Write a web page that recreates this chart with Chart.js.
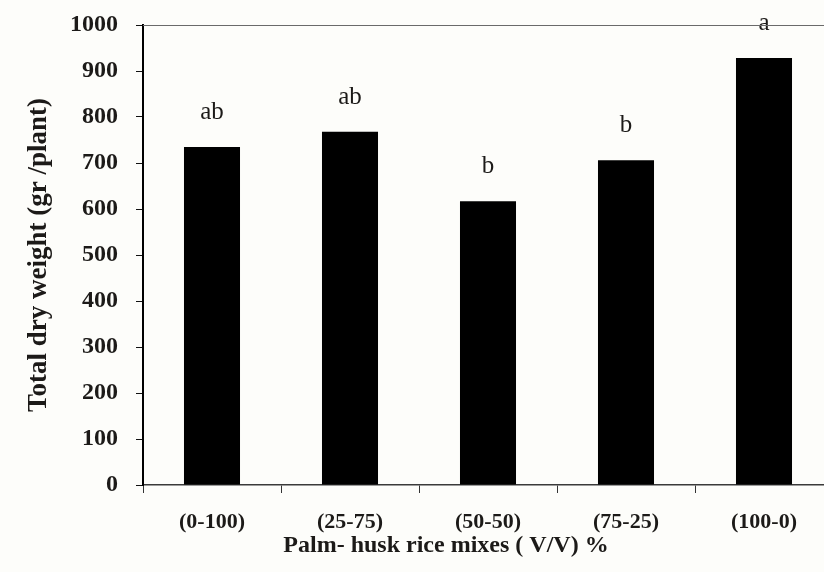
<!DOCTYPE html>
<html>
<head>
<meta charset="utf-8">
<script src="https://cdn.jsdelivr.net/npm/chart.js@4/dist/chart.umd.min.js"></script>
<style>
  html, body { margin: 0; padding: 0; background: #fdfdfa; }
  #frame { width: 824px; height: 572px; overflow: hidden; position: relative; }
  #wrap { width: 840px; height: 572px; position: absolute; left: 0; top: 0; }
</style>
</head>
<body>
<div id="frame"><div id="wrap"><canvas id="chart"></canvas></div></div>
<script>
// Total dry weight per plant for each palm / husk-rice mix
const categories = ['(0-100)', '(25-75)', '(50-50)', '(75-25)', '(100-0)'];
const dryWeight = [735, 768, 617, 706, 928];
const groupLetters = ['ab', 'ab', 'b', 'b', 'a'];
const yTicks = [0, 100, 200, 300, 400, 500, 600, 700, 800, 900, 1000];
const xTitle = 'Palm- husk rice mixes ( V/V) %';

const serif = "'Liberation Serif', 'Times New Roman', serif";
const ink = '#1c1a18';

// Significance letters written above each bar
const letterPlugin = {
  id: 'groupLetters',
  afterDatasetsDraw(chart) {
    const ctx = chart.ctx;
    const meta = chart.getDatasetMeta(0);
    ctx.save();
    ctx.font = "25px " + serif;
    ctx.fillStyle = ink;
    ctx.textAlign = 'center';
    ctx.textBaseline = 'alphabetic';
    meta.data.forEach((bar, i) => {
      ctx.fillText(groupLetters[i], bar.x, bar.y - 28);
    });
    ctx.restore();
  }
};

// Thin frame line along the top of the plot area, plus the x-axis caption
const framePlugin = {
  id: 'frameAndCaption',
  afterDraw(chart) {
    const { ctx, chartArea } = chart;
    ctx.save();
    ctx.strokeStyle = '#6a6a6a';
    ctx.lineWidth = 1.2;
    ctx.beginPath();
    ctx.moveTo(chartArea.left, chartArea.top + 0.5);
    ctx.lineTo(chartArea.right, chartArea.top + 0.5);
    ctx.stroke();

    ctx.font = "bold 24px " + serif;
    ctx.fillStyle = ink;
    ctx.textAlign = 'center';
    ctx.textBaseline = 'alphabetic';
    ctx.fillText(xTitle, chartArea.left + 303, chartArea.bottom + 67);
    ctx.restore();
  }
};

new Chart(document.getElementById('chart'), {
  type: 'bar',
  data: {
    labels: categories,
    datasets: [{
      data: dryWeight,
      backgroundColor: '#000000',
      borderWidth: 0,
      categoryPercentage: 1,
      barPercentage: 0.406
    }]
  },
  options: {
    responsive: true,
    maintainAspectRatio: false,
    animation: false,
    layout: { padding: { left: 0, top: 25, right: 7, bottom: 0 } },
    plugins: { legend: { display: false }, tooltip: { enabled: false } },
    scales: {
      x: {
        afterFit(scale) { scale.height = 87; scale.paddingLeft = 0; scale.paddingRight = 0; },
        grid: {
          offset: true,
          drawOnChartArea: false,
          drawTicks: true,
          tickLength: 8,
          color: '#333'
        },
        border: { display: true, color: '#3a3a3a', width: 1.5 },
        ticks: {
          color: ink,
          padding: 16,
          font: { family: serif, size: 22, weight: 'bold' }
        }
      },
      y: {
        min: 0,
        max: 1000,
        afterFit(scale) { scale.width = 143; scale.paddingTop = 0; scale.paddingBottom = 0; },
        afterBuildTicks(scale) { scale.ticks = yTicks.map(v => ({ value: v })); },
        grid: {
          drawOnChartArea: false,
          drawTicks: true,
          tickLength: 7,
          color: '#111'
        },
        border: { display: true, color: '#000', width: 2 },
        ticks: {
          color: ink,
          padding: 18,
          font: { family: serif, size: 24, weight: 'bold' },
          callback: (v) => String(v)
        },
        title: {
          display: true,
          text: 'Total dry weight (gr /plant)',
          color: ink,
          font: { family: serif, size: 27, weight: 'bold' },
          padding: { top: 23, bottom: 0 }
        }
      }
    }
  },
  plugins: [letterPlugin, framePlugin]
});
</script>
</body>
</html>
